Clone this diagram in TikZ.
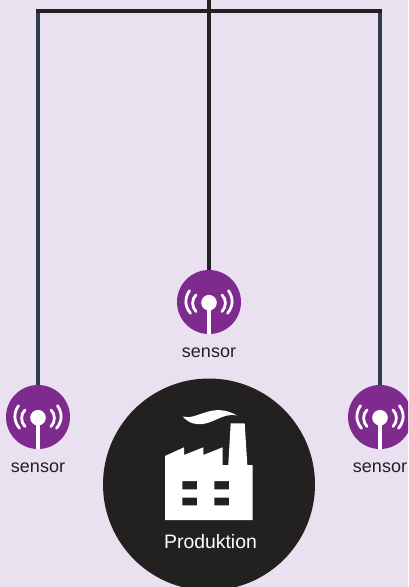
\documentclass[tikz,border=0pt]{standalone}
\usepackage{fontspec}
\setmainfont{Liberation Sans}
\definecolor{bgc}{HTML}{E9E0F0}
\definecolor{purp}{HTML}{7F2A8E}
\definecolor{wirec}{HTML}{222222}
\definecolor{slatec}{HTML}{2F3D4A}
\definecolor{blk}{HTML}{222120}
\tikzset{
  sensorbody/.style={circle,fill=purp,minimum size=64pt,inner sep=0pt},
  wire/.style={line width=4pt,draw=wirec},
  sidewire/.style={line width=4pt,draw=slatec},
  lab/.style={font=\fontsize{18}{20}\selectfont,text=blk,inner sep=0pt},
  wave/.style={draw=white,line width=2.8pt,line cap=round},
}
\newcommand{\sensoricon}[2]{%
  \begin{scope}[shift={(#1,#2)}]
  \fill[white] (0,0.7) circle (7.8);
  \fill[white] (-1.8,0.7) rectangle (1.8,32);
  \draw[wave] (-13,-7) .. controls (-17.5,-3) and (-17.5,5) .. (-13,9.5);
  \draw[wave] (13,-7) .. controls (17.5,-3) and (17.5,5) .. (13,9.5);
  \draw[wave] (-19.5,-11.3) .. controls (-24.5,-4) and (-24.5,4) .. (-18.5,11.3);
  \draw[wave] (19.5,-11.3) .. controls (24.5,-4) and (24.5,4) .. (18.5,11.3);
  \end{scope}
}
\begin{document}
\begin{tikzpicture}[x=1pt,y=-1pt]
\useasboundingbox (0,0) rectangle (408,587);
\fill[bgc] (0,0) rectangle (408,587);
\clip (0,0) rectangle (408,587);
% big circle
\node[circle,fill=blk,minimum size=212pt,inner sep=0pt] (prod) at (209,484.5) {};
% sensors
\node[sensorbody] (sm) at (209,302) {};
\node[sensorbody] (sl) at (38,417) {};
\node[sensorbody] (sr) at (380,417) {};
% wires
\coordinate (top) at (209,0);
\coordinate (cl) at (38,11);
\coordinate (cr) at (380,11);
\draw[sidewire] (cl) -- (sl.north);
\draw[sidewire] (cr) -- (sr.north);
\draw[wire] (top) -- (sm.north);
\draw[wire] ([xshift=-2pt]cl) -- ([xshift=2pt]cr);
% icons
\sensoricon{209}{302}
\sensoricon{38}{417}
\sensoricon{380}{417}
% labels
\node[lab] (lm) at (209,353) {sensor};
\node[lab] (ll) at (38,468) {sensor};
\node[lab] (lr) at (380,468) {sensor};
\node[font=\fontsize{19.4}{21}\selectfont,text=white,inner sep=0pt] (lp) at (210.5,541.5) {Produktion};
% factory
\fill[white,even odd rule]
  (165,456) -- (184,447.3) -- (184,455) -- (203.3,447.3) -- (203.3,455) -- (222.7,447.3) -- (222.7,465)
  -- (228.3,465) -- (230.7,423.3) -- (244.7,423.3) -- (247.3,465) -- (252.7,465) -- (252.7,520) -- (165,520) -- cycle
  (182.3,481) rectangle (197,489.3)
  (214.3,481) rectangle (229,489.3)
  (182.3,497.7) rectangle (197,505.3)
  (214.3,497.7) rectangle (229,505.3);
\fill[white] (182.5,416.5) .. controls (197,421) and (212,401) .. (237,415.5)
  .. controls (222,412) and (212,426) .. (197,424) .. controls (191,424) and (186,420) .. (182.5,416.5) -- cycle;
\end{tikzpicture}
\end{document}
